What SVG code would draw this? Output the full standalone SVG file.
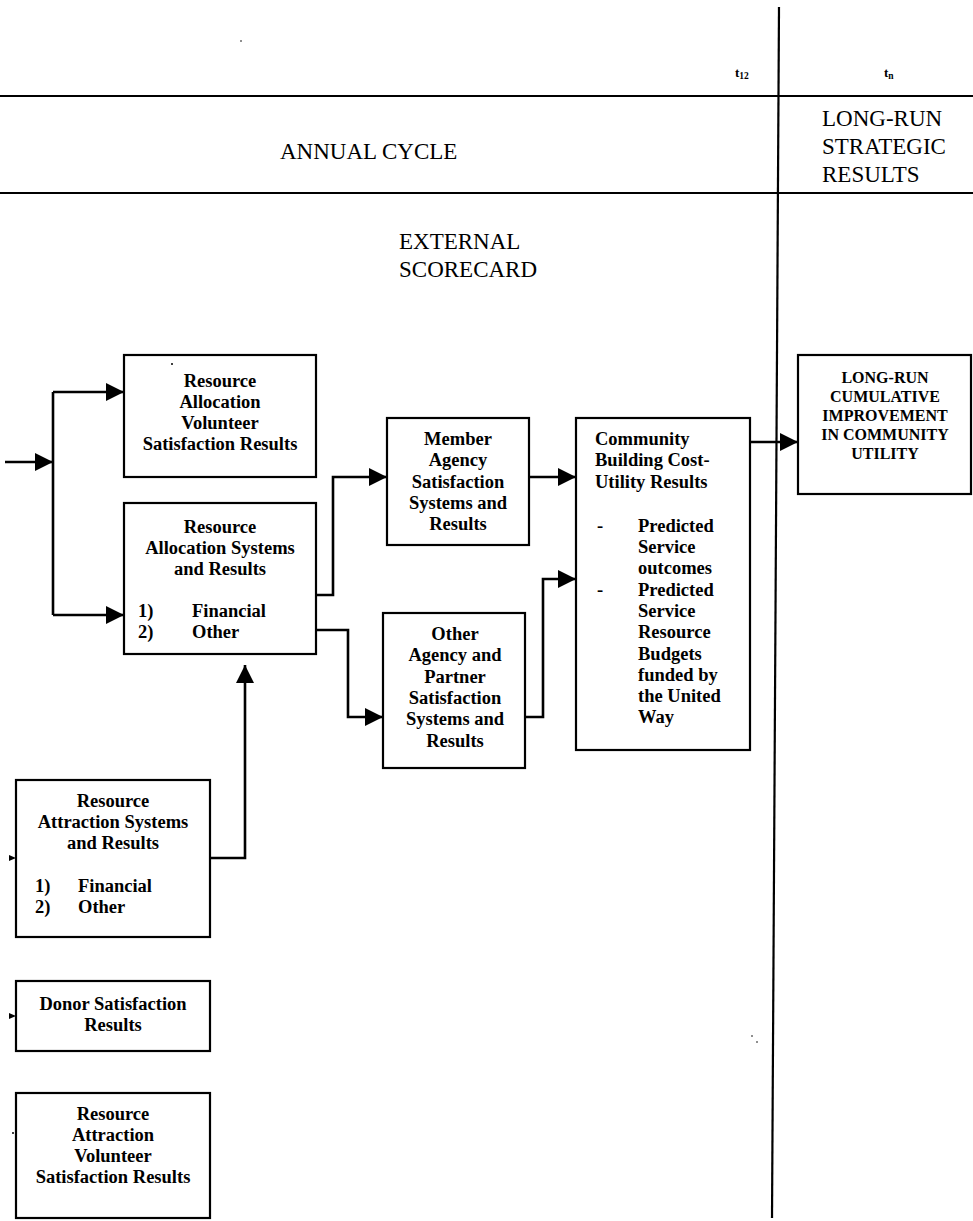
<svg xmlns="http://www.w3.org/2000/svg" width="973" height="1221" viewBox="0 0 973 1221">
<style>
text{font-family:"Liberation Serif","Times New Roman",serif;fill:#000}
.hd{font-size:23px}
.hs{font-size:23px}
.b{font-size:18.5px;font-weight:bold}
.c{text-anchor:middle}
.lr{font-size:16px;font-weight:bold;text-anchor:middle}
.t{font-size:13px;font-weight:bold}
.box{fill:#fff;stroke:#000;stroke-width:2.2}
.rule{stroke:#000;stroke-width:2.2;fill:none}
.wire{stroke:#000;stroke-width:2.6;fill:none}
</style>
<defs>
<marker id="ah" markerUnits="userSpaceOnUse" markerWidth="18" markerHeight="18" refX="18" refY="9" orient="auto">
<path d="M0,0 L18,9 L0,18 z" fill="#000"/>
</marker>
</defs>
<rect width="973" height="1221" fill="#fff"/>

<g id="frame">
<line class="rule" x1="0" y1="96" x2="973" y2="96"/>
<line class="rule" x1="0" y1="193" x2="973" y2="193"/>
<line class="rule" x1="779" y1="7" x2="772" y2="1218"/>
<text class="t" x="735" y="77">t<tspan font-size="9.5" dy="2">12</tspan></text>
<text class="t" x="884" y="77">t<tspan font-size="9.5" dy="2">n</tspan></text>
<text class="hd" x="280" y="159">ANNUAL CYCLE</text>
<text class="hs" x="822" y="126">LONG-RUN</text>
<text class="hs" x="822" y="154">STRATEGIC</text>
<text class="hs" x="822" y="182">RESULTS</text>
<text class="hd" x="399" y="249">EXTERNAL</text>
<text class="hd" x="399" y="277">SCORECARD</text>
<circle cx="241" cy="41" r="0.8" fill="#000"/>
<circle cx="752" cy="1036" r="0.8" fill="#000"/>
<circle cx="757" cy="1042" r="0.8" fill="#000"/>
</g>

<g id="connectors">
<path class="wire" d="M5,462 H53" marker-end="url(#ah)"/>
<path class="wire" d="M53,392 V615"/>
<path class="wire" d="M53,392 H124" marker-end="url(#ah)"/>
<path class="wire" d="M53,615 H124" marker-end="url(#ah)"/>
<path class="wire" d="M316,595 H333 V477 H387" marker-end="url(#ah)"/>
<path class="wire" d="M316,630 H348 V717 H383" marker-end="url(#ah)"/>
<path class="wire" d="M529,477 H576" marker-end="url(#ah)"/>
<path class="wire" d="M525,717 H543 V579 H576" marker-end="url(#ah)"/>
<path class="wire" d="M750,442 H798" marker-end="url(#ah)"/>
<path class="wire" d="M210,858 H245 V665" marker-end="url(#ah)"/>
<path d="M9,855 L16,858 L9,861 z" fill="#000"/>
<path d="M9,1013 L16,1016 L9,1019 z" fill="#000"/>
<circle cx="13" cy="1133" r="1" fill="#000"/>
</g>

<g id="ravsr">
<rect class="box" x="124" y="355" width="192" height="122"/>
<circle cx="172" cy="364" r="1" fill="#000"/>
<text class="b c" x="220" y="387">Resource</text>
<text class="b c" x="220" y="408">Allocation</text>
<text class="b c" x="220" y="429">Volunteer</text>
<text class="b c" x="220" y="450">Satisfaction Results</text>
</g>

<g id="rasr">
<rect class="box" x="124" y="503" width="192" height="151"/>
<text class="b c" x="220" y="533">Resource</text>
<text class="b c" x="220" y="554">Allocation Systems</text>
<text class="b c" x="220" y="575">and Results</text>
<text class="b" x="138" y="617">1)</text>
<text class="b" x="192" y="617">Financial</text>
<text class="b" x="138" y="638">2)</text>
<text class="b" x="192" y="638">Other</text>
</g>

<g id="member">
<rect class="box" x="387" y="418" width="142" height="127"/>
<text class="b c" x="458" y="445">Member</text>
<text class="b c" x="458" y="466">Agency</text>
<text class="b c" x="458" y="488">Satisfaction</text>
<text class="b c" x="458" y="509">Systems and</text>
<text class="b c" x="458" y="530">Results</text>
</g>

<g id="other">
<rect class="box" x="383" y="613" width="142" height="155"/>
<text class="b c" x="455" y="640">Other</text>
<text class="b c" x="455" y="661">Agency and</text>
<text class="b c" x="455" y="683">Partner</text>
<text class="b c" x="455" y="704">Satisfaction</text>
<text class="b c" x="455" y="725">Systems and</text>
<text class="b c" x="455" y="747">Results</text>
</g>

<g id="community">
<rect class="box" x="576" y="418" width="174" height="332"/>
<text class="b" x="595" y="445">Community</text>
<text class="b" x="595" y="466">Building Cost-</text>
<text class="b" x="595" y="488">Utility Results</text>
<text class="b" x="597" y="532">-</text>
<text class="b" x="638" y="532">Predicted</text>
<text class="b" x="638" y="553">Service</text>
<text class="b" x="638" y="574">outcomes</text>
<text class="b" x="597" y="596">-</text>
<text class="b" x="638" y="596">Predicted</text>
<text class="b" x="638" y="617">Service</text>
<text class="b" x="638" y="638">Resource</text>
<text class="b" x="638" y="660">Budgets</text>
<text class="b" x="638" y="681">funded by</text>
<text class="b" x="638" y="702">the United</text>
<text class="b" x="638" y="723">Way</text>
</g>

<g id="longrun">
<rect class="box" x="798" y="355" width="173" height="139"/>
<text class="lr" x="885" y="383">LONG-RUN</text>
<text class="lr" x="885" y="402">CUMULATIVE</text>
<text class="lr" x="885" y="421">IMPROVEMENT</text>
<text class="lr" x="885" y="440">IN COMMUNITY</text>
<text class="lr" x="885" y="459">UTILITY</text>
</g>

<g id="attraction">
<rect class="box" x="16" y="780" width="194" height="157"/>
<text class="b c" x="113" y="807">Resource</text>
<text class="b c" x="113" y="828">Attraction Systems</text>
<text class="b c" x="113" y="849">and Results</text>
<text class="b" x="35" y="892">1)</text>
<text class="b" x="78" y="892">Financial</text>
<text class="b" x="35" y="913">2)</text>
<text class="b" x="78" y="913">Other</text>
</g>

<g id="donor">
<rect class="box" x="16" y="981" width="194" height="70"/>
<text class="b c" x="113" y="1010">Donor Satisfaction</text>
<text class="b c" x="113" y="1031">Results</text>
</g>

<g id="ravs">
<rect class="box" x="16" y="1093" width="194" height="125"/>
<text class="b c" x="113" y="1120">Resource</text>
<text class="b c" x="113" y="1141">Attraction</text>
<text class="b c" x="113" y="1162">Volunteer</text>
<text class="b c" x="113" y="1183">Satisfaction Results</text>
</g>
</svg>
